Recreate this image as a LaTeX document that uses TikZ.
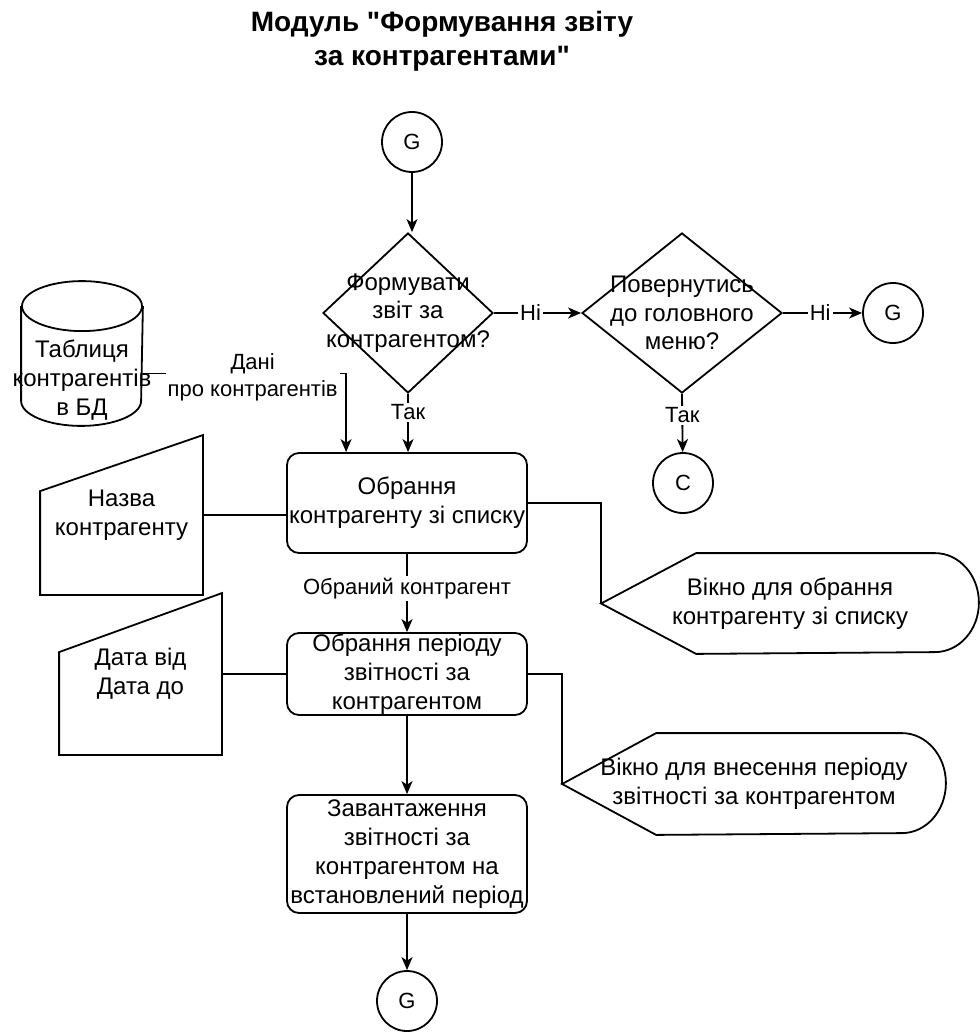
\documentclass[tikz,border=0pt]{standalone}
\usepackage{fontspec}
\setmainfont{Liberation Sans}
\usetikzlibrary{shapes.geometric, arrows.meta}

\tikzset{
	txt/.style={align=center, inner sep=0pt, font=\fontsize{12}{14.4}\selectfont},
	lbl/.style={align=center, inner sep=1pt, fill=white, font=\fontsize{11}{13.2}\selectfont},
	conn/.style={draw, circle, minimum size=30pt, inner sep=0pt, font=\fontsize{11}{13}\selectfont},
	decision/.style={draw, diamond, minimum height=80pt, inner sep=0pt},
	process/.style={txt, draw, rounded corners=6pt, minimum width=120pt},
	panel/.style={txt, minimum width=#1},
}

\begin{document}
\begin{tikzpicture}[x=0.5pt, y=-0.5pt, line width=0.9pt, >={Stealth[length=6.5pt, width=5.5pt, inset=1.8pt]}]
	\useasboundingbox (0,0) rectangle (979,1032);
	\node [txt, font=\bfseries\fontsize{14}{16.8}\selectfont] (title) at (442,41) {Модуль \textquotedbl Формування звіту\\за контрагентами\textquotedbl};

	\node [conn] (g1) at (412,142) {G};
	\node [decision, minimum width=85pt] (q1) at (408,313) {};
	\node [txt] (q1t) at (q1) {Формувати\\звіт за\\контрагентом?};
	\node [decision, minimum width=100pt] (q2) at (682,313) {};
	\node [txt] (q2t) at (q2) {Повернутись\\до головного\\меню?};
	\node [conn] (g2) at (893,313) {G};
	\node [conn] (c1) at (683,483) {C};

	\node [process, minimum height=50pt] (r1) at (407,503) {Обрання\\контрагенту зі списку};
	\node [process, minimum height=41pt] (r2) at (407,674) {Обрання періоду\\звітності за\\контрагентом};
	\node [process, minimum height=59pt] (r3) at (407,854) {Завантаження\\звітності за\\контрагентом на\\встановлений період};
	\node [conn] (g3) at (407,1001) {G};

	\node [panel=60pt, minimum height=71.5pt] (db) at (82,353.5) {};
	\draw ([yshift=-12.5pt]db.north west) -- ([yshift=12.5pt]db.south west) arc [start angle=180, end angle=360, x radius=30pt, y radius=12.5pt] -- ([yshift=-12.5pt]db.north east);
	\draw ([yshift=-12.5pt]db.north) ellipse [x radius=30pt, y radius=12.5pt];

	\node [panel=80.5pt, minimum height=79pt] (in1) at (121.5,515) {Назва\\контрагенту};
	\draw (in1.south west) -- (in1.south east) -- (in1.north east) -- ([yshift=-28pt]in1.north west) -- cycle;
	\node [panel=80.5pt, minimum height=80pt] (in2) at (140.5,674) {Дата від\\Дата до};
	\draw (in2.south west) -- (in2.south east) -- (in2.north east) -- ([yshift=-29.5pt]in2.north west) -- cycle;

	\node [panel=188pt, minimum height=49.5pt] (w1) at (790,603.5) {Вікно для обрання\\контрагенту зі списку};
	\draw (w1.west) -- ([xshift=47.5pt]w1.north west) -- ([xshift=-22pt]w1.north east) arc [start angle=90, end angle=-90, x radius=22pt, y radius=24.75pt] -- ([xshift=47.5pt]w1.south west) -- cycle;
	\node [panel=191pt, minimum height=50pt] (w2) at (754,784) {Вікно для внесення періоду\\звітності за контрагентом};
	\draw (w2.west) -- ([xshift=47pt]w2.north west) -- ([xshift=-22pt]w2.north east) arc [start angle=90, end angle=-90, x radius=22pt, y radius=25pt] -- ([xshift=47pt]w2.south west) -- cycle;

	\draw [->] (g1) -- (g1 |- q1.north);
	\draw [->] (q1.east) -- (q2.west) node [lbl, pos=0.42] (lno1) {Ні};
	\draw [->] (q2.east) -- (g2) node [lbl, pos=0.47] (lno2) {Ні};
	\draw [->] (q2.south) -- (c1) node [lbl, pos=0.37] (lyes2) {Так};
	\draw [->] (q1.south) -- (q1.south |- r1.north) node [lbl, pos=0.32] (lyes1) {Так};
	\draw [->] ([yshift=-10pt]db.east) -| ([xshift=30pt]r1.north west) node [lbl, pos=0.27, yshift=-2pt] (ldata) {Дані\\про контрагентів};
	\node [txt] (dbt) at (82,380) {Таблиця\\контрагентів\\в БД};
	\draw (in1.east) -- (in1.east -| r1.west);
	\draw [->] (r1) -- (r2) node [lbl, pos=0.44] (lsel) {Обраний контрагент};
	\draw (r1.east) -| (w1.west);
	\draw (in2.east) -- (in2.east -| r2.west);
	\draw (r2.east) -| (w2.west);
	\draw [->] (r2) -- (r3);
	\draw [->] (r3) -- (g3);
\end{tikzpicture}
\end{document}
